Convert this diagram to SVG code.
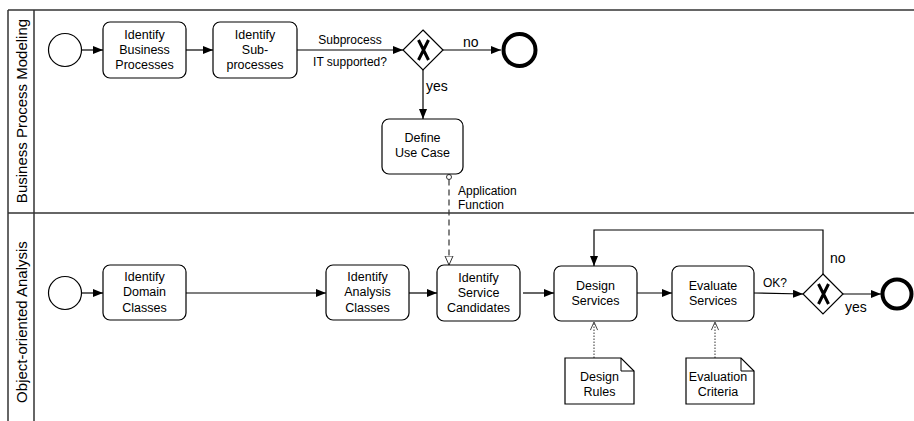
<svg xmlns="http://www.w3.org/2000/svg" width="914" height="421" viewBox="0 0 914 421">
<defs>
<style>
text{font-family:"Liberation Sans",Arial,sans-serif;fill:#000}
.t{font-size:12.5px;text-anchor:middle}
.lbl{font-size:12px}
.big{font-size:14px}
.hdr{font-size:15px;text-anchor:middle}
.task{fill:#fff;stroke:#000;stroke-width:1.2}
.ev{fill:#fff;stroke:#000;stroke-width:1.2}
.end{fill:#fff;stroke:#000;stroke-width:4}
.gw{fill:#fff;stroke:#000;stroke-width:1.2}
.gx{stroke:#000;stroke-width:3;fill:none}
.flow{fill:none;stroke:#000;stroke-width:1.2;marker-end:url(#arr)}
.frame{stroke:#333;stroke-width:1.5;fill:none}
.doc{fill:#fff;stroke:#000;stroke-width:1.2}
</style>
<marker id="arr" viewBox="0 0 10 8" refX="10" refY="4" markerWidth="10" markerHeight="8" markerUnits="userSpaceOnUse" orient="auto"><path d="M0,0L10,4L0,8z" fill="#000"/></marker>
<marker id="hollow" viewBox="0 0 10 10" refX="9.5" refY="5" markerWidth="10" markerHeight="10" markerUnits="userSpaceOnUse" orient="auto"><path d="M0.5,1L9.5,5L0.5,9z" fill="#fff" stroke="#333" stroke-width="1"/></marker>
<marker id="openv" viewBox="0 0 10 10" refX="9.5" refY="5" markerWidth="9" markerHeight="9" markerUnits="userSpaceOnUse" orient="auto"><path d="M0.5,1L9.5,5L0.5,9" fill="none" stroke="#333" stroke-width="1"/></marker>
</defs>
<rect width="914" height="421" fill="#fff"/>
<g id="pool">
<line class="frame" x1="8" y1="10" x2="914" y2="10"/>
<line class="frame" x1="8" y1="10" x2="8" y2="421"/>
<line class="frame" x1="34" y1="10" x2="34" y2="421"/>
<line class="frame" x1="8" y1="213" x2="914" y2="213"/>
<text class="hdr" transform="translate(26.5,111) rotate(-90)">Business Process Modeling</text>
<text class="hdr" transform="translate(26.5,322) rotate(-90)">Object-oriented Analysis</text>
</g>
<g id="connectors">
<line class="flow" x1="82" y1="50" x2="103" y2="50"/>
<line class="flow" x1="186" y1="50" x2="213" y2="50"/>
<line class="flow" x1="297" y1="50" x2="403" y2="50"/>
<line class="flow" x1="443" y1="50" x2="501" y2="50"/>
<line class="flow" x1="423" y1="70" x2="423" y2="119"/>
<circle cx="449" cy="177" r="2.5" fill="#fff" stroke="#333" stroke-width="1"/>
<line x1="449" y1="179.5" x2="449" y2="265" stroke="#333" stroke-width="1.2" stroke-dasharray="6,4" marker-end="url(#hollow)"/>
<line class="flow" x1="82" y1="293" x2="103" y2="293"/>
<line class="flow" x1="186" y1="293" x2="326" y2="293"/>
<line class="flow" x1="409" y1="293" x2="437" y2="293"/>
<line class="flow" x1="523" y1="293" x2="554" y2="293"/>
<line class="flow" x1="637" y1="293" x2="672" y2="293"/>
<line class="flow" x1="754" y1="293" x2="803" y2="294"/>
<line class="flow" x1="843" y1="294" x2="881" y2="294"/>
<polyline class="flow" points="823,274 823,230 594,230 594,266"/>
<line x1="594" y1="358" x2="594" y2="322" stroke="#333" stroke-width="1" stroke-dasharray="1.5,1.5" marker-end="url(#openv)"/>
<line x1="715" y1="358" x2="715" y2="322" stroke="#333" stroke-width="1" stroke-dasharray="1.5,1.5" marker-end="url(#openv)"/>
<text class="lbl" x="350" y="44" text-anchor="middle">Subprocess</text>
<text class="lbl" x="350" y="66" text-anchor="middle">IT supported?</text>
<text class="big" x="463" y="47">no</text>
<text class="big" x="426" y="91">yes</text>
<text class="lbl" x="458" y="195">Application</text>
<text class="lbl" x="458" y="209">Function</text>
<text class="lbl" x="763" y="287">OK?</text>
<text class="big" x="830" y="263">no</text>
<text class="big" x="845" y="312">yes</text>
</g>
<g id="start1"><circle class="ev" cx="65" cy="50" r="16.5"/></g>
<g id="task-business"><rect class="task" x="103" y="22" width="83" height="56" rx="7"/>
<text class="t" x="144.5" y="38.5">Identify</text><text class="t" x="144.5" y="53.5">Business</text><text class="t" x="144.5" y="68.5">Processes</text></g>
<g id="task-sub"><rect class="task" x="213" y="22" width="84" height="56" rx="7"/>
<text class="t" x="255" y="38.5">Identify</text><text class="t" x="255" y="53.5">Sub-</text><text class="t" x="255" y="68.5">processes</text></g>
<g id="gw1"><path class="gw" d="M423,30L443,50L423,70L403,50z"/><path class="gx" d="M418.5,40L428.5,60M428.5,40L418.5,60"/></g>
<g id="end1"><circle class="end" cx="519.5" cy="50" r="16"/></g>
<g id="task-usecase"><rect class="task" x="382" y="119" width="81" height="55" rx="7"/>
<text class="t" x="422.5" y="142">Define</text><text class="t" x="422.5" y="157">Use Case</text></g>
<g id="start2"><circle class="ev" cx="65" cy="293" r="16.5"/></g>
<g id="task-domain"><rect class="task" x="103" y="265" width="83" height="55" rx="7"/>
<text class="t" x="144.5" y="281">Identify</text><text class="t" x="144.5" y="296">Domain</text><text class="t" x="144.5" y="312">Classes</text></g>
<g id="task-analysis"><rect class="task" x="326" y="265" width="83" height="55" rx="7"/>
<text class="t" x="367.5" y="281">Identify</text><text class="t" x="367.5" y="296">Analysis</text><text class="t" x="367.5" y="312">Classes</text></g>
<g id="task-candidates"><rect class="task" x="437" y="265" width="83" height="56" rx="7"/>
<text class="t" x="478.5" y="282">Identify</text><text class="t" x="478.5" y="297">Service</text><text class="t" x="478.5" y="312">Candidates</text></g>
<g id="task-design"><rect class="task" x="554" y="266" width="83" height="55" rx="7"/>
<text class="t" x="595.5" y="290">Design</text><text class="t" x="595.5" y="305">Services</text></g>
<g id="task-evaluate"><rect class="task" x="672" y="266" width="82" height="55" rx="7"/>
<text class="t" x="713" y="290">Evaluate</text><text class="t" x="713" y="305">Services</text></g>
<g id="gw2"><path class="gw" d="M823,274L843,294L823,314L803,294z"/><path class="gx" d="M818.5,284L828.5,304M828.5,284L818.5,304"/></g>
<g id="end2"><circle class="end" cx="897" cy="294" r="14.5"/></g>
<g id="doc-rules"><path class="doc" d="M565,358L621,358L634,371L634,404L565,404z"/><path d="M621,358L621,371L634,371" fill="none" stroke="#000" stroke-width="1"/>
<text class="t" x="599.5" y="381">Design</text><text class="t" x="599.5" y="396">Rules</text></g>
<g id="doc-criteria"><path class="doc" d="M686,358L741,358L754,371L754,404L686,404z"/><path d="M741,358L741,371L754,371" fill="none" stroke="#000" stroke-width="1"/>
<text class="t" x="718" y="381">Evaluation</text><text class="t" x="718" y="396">Criteria</text></g>
</svg>
